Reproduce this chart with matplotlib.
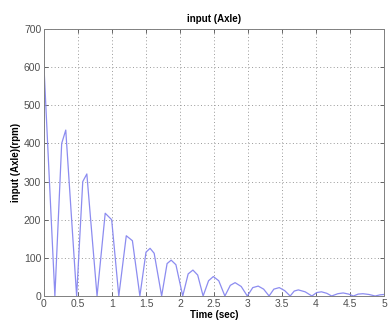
import numpy as np
import matplotlib
matplotlib.use("Agg")
import matplotlib.pyplot as plt

# points
time_s = [0.0, 0.16, 0.26, 0.32, 0.48, 0.57, 0.63, 0.78, 0.90, 0.995, 1.10,
          1.21, 1.30, 1.41, 1.50, 1.56, 1.62, 1.73, 1.81, 1.87, 1.94, 2.04,
          2.12, 2.19, 2.26, 2.34, 2.42, 2.49, 2.57, 2.66, 2.74, 2.81, 2.90,
          2.99, 3.07, 3.15, 3.23, 3.31, 3.38, 3.46, 3.54, 3.62, 3.68, 3.74,
          3.84, 3.94, 4.01, 4.08, 4.16, 4.23, 4.32, 4.40, 4.48, 4.55, 4.62,
          4.69, 4.78, 4.87, 4.94, 5.0]
speed_rpm = [600, 0, 400, 435, 0, 300, 320, 0, 217, 200, 0,
             158, 145, 0, 115, 125, 112, 0, 85, 94, 82, 0,
             58, 68, 55, 0, 40, 51, 40, 0, 28, 35, 25,
             0, 22, 26, 18, 0, 18, 22, 14, 0, 13, 16,
             11, 0, 9, 11, 7, 0, 6, 8, 5, 0, 5,
             6, 4, 0, 3, 4]

xticks = [0, 0.5, 1, 1.5, 2, 2.5, 3, 3.5, 4, 4.5, 5]
xlabels = ['0', '0.5', '1', '1.5', '2', '2.5', '3', '3.5', '4', '4.5', '5']
yticks = [0, 100, 200, 300, 400, 500, 600, 700]

plt.rcParams['font.family'] = ['Liberation Sans', 'DejaVu Sans']

fig = plt.figure(figsize=(3.88, 3.24), dpi=100)
ax = fig.add_axes([0.1134, 0.0864, 0.8763, 0.8241])

ax.plot(time_s, speed_rpm, color='#8c8cf0', linewidth=0.9)

ax.set_xlim(0, 5)
ax.set_ylim(0, 700)
ax.set_xticks(xticks)
ax.set_xticklabels(xlabels)
ax.set_yticks(yticks)
ax.grid(True, linestyle=(0, (1, 2.5)), color='#999999', linewidth=0.7)

ax.tick_params(direction='in', length=3, width=0.6, labelsize=7.5,
               colors='#505050', top=True, right=True, pad=2)
for sp in ax.spines.values():
    sp.set_color('#808080')
    sp.set_linewidth(0.7)

ax.set_title('input (Axle)', fontsize=7, fontweight='bold', pad=5)
ax.set_xlabel('Time (sec)', fontsize=7, fontweight='bold', labelpad=1)
ax.set_ylabel('input (Axle)(rpm)', fontsize=7, fontweight='bold', labelpad=2)

fig.savefig('out.png', dpi=100)
